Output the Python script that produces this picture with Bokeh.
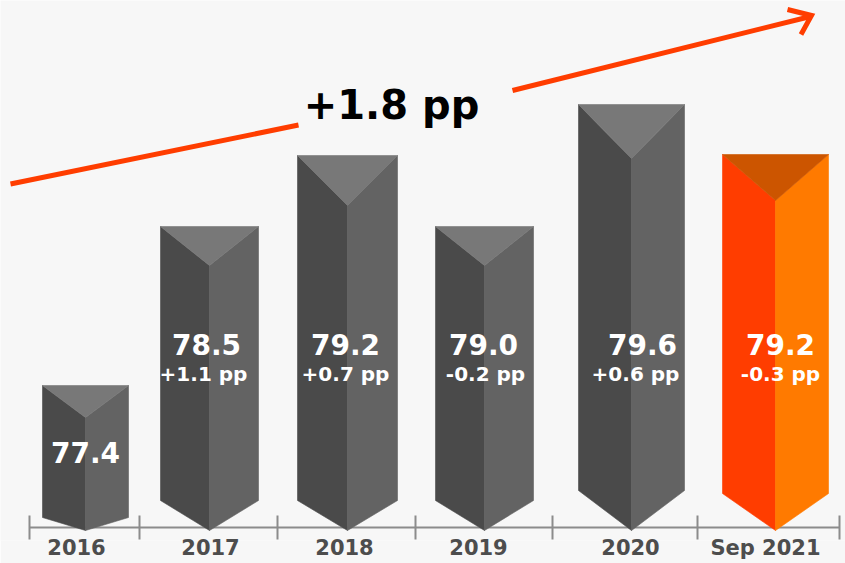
from bokeh.plotting import figure
from bokeh.models import ColumnDataSource, Range1d, LinearAxis, FixedTicker
from bokeh.core.properties import value
from bokeh.embed import file_html
from bokeh.resources import INLINE

# ---- data ----
categories = ["2016", "2017", "2018", "2019", "2020", "Sep 2021"]
rate_labels = ["77.4", "78.5", "79.2", "79.0", "79.6", "79.2"]
change_labels = ["", "+1.1 pp", "+0.7 pp", "-0.2 pp", "+0.6 pp", "-0.3 pp"]
bar_heights = [142, 301, 372, 301, 423, 373]   # drawn height above the axis line
total_change = "+1.8 pp"

# ---- layout (page pixels of the reference; axis line is y = 0) ----
BASE = 527
bar_x = [85, 209, 347, 484, 631, 775]
bar_half = [43, 49, 50, 49, 53, 53]
top_depth = [32, 39, 50, 39, 54, 46]
shoulder = [10, 27, 27, 27, 37, 34]      # shoulder above axis line
tip = -3
rate_x = [85, 206, 345, 483, 642, 780]
rate_y = [452, 344, 344, 344, 344, 344]
change_x = [0, 203, 345, 485, 635, 780]
label_x = [76, 210, 344, 478, 630, 765]
edges = [29, 139, 277, 415, 552, 697, 839]

GREY = ("#4a4a4a", "#636363", "#787878")
ORANGE = ("#ff3d00", "#ff7a00", "#cc5500")
FONT = "DejaVu Sans"

p = figure(width=845, height=563, x_range=Range1d(0, 845), y_range=Range1d(-13, 527),
           output_backend="svg", toolbar_location=None, min_border=0,
           min_border_bottom=23, background_fill_color="#f7f7f7",
           border_fill_color="#f7f7f7", outline_line_color=None,
           x_axis_location=None, y_axis_location=None)
p.grid.visible = False

# axis line with separators
p.line([edges[0], edges[-1]], [0, 0], line_color="#8c8c8c", line_width=2)
p.segment(edges, [-12] * len(edges), edges, [12] * len(edges), line_color="#8c8c8c", line_width=2)

# prisms
left_x, left_y, right_x, right_y, top_x, top_y, lc, rc, tc = [], [], [], [], [], [], [], [], []
for i, h in enumerate(bar_heights):
    c, w, d, s = bar_x[i], bar_half[i], top_depth[i], shoulder[i]
    left_x.append([c - w, c, c, c - w]); left_y.append([h, h - d, tip, s])
    right_x.append([c + w, c, c, c + w]); right_y.append([h, h - d, tip, s])
    top_x.append([c - w, c + w, c]); top_y.append([h, h, h - d])
    pal = ORANGE if i == len(bar_heights) - 1 else GREY
    lc.append(pal[0]); rc.append(pal[1]); tc.append(pal[2])
p.patches(left_x, left_y, fill_color=lc, line_color=lc, line_width=0.6)
p.patches(right_x, right_y, fill_color=rc, line_color=rc, line_width=0.6)
p.patches(top_x, top_y, fill_color=tc, line_color=tc, line_width=0.6)

# labels on bars
rate_src = ColumnDataSource(dict(x=rate_x, y=[BASE - v for v in rate_y], t=rate_labels))
p.text("x", "y", text="t", source=rate_src, text_color="white", text_font=value(FONT),
       text_font_style="bold", text_font_size="28px", text_align="center", text_baseline="middle")
chg_idx = [i for i, t in enumerate(change_labels) if t]
chg_src = ColumnDataSource(dict(x=[change_x[i] for i in chg_idx], y=[BASE - 373] * len(chg_idx),
                                t=[change_labels[i] for i in chg_idx]))
p.text("x", "y", text="t", source=chg_src, text_color="white", text_font=value(FONT),
       text_font_style="bold", text_font_size="20px", text_align="center", text_baseline="middle")

# trend arrow
ARROW = "#ff3d00"
p.line([10, 298], [BASE - 183.5, BASE - 124.5], line_color=ARROW, line_width=5)
p.line([512, 810], [BASE - 90, BASE - 16], line_color=ARROW, line_width=5)
p.line([787, 811, 800.5], [BASE - 9, BASE - 15, BASE - 34], line_color=ARROW, line_width=5,
       line_join="miter")
p.text([391], [BASE - 104], text=[total_change], text_color="#000000", text_font=value(FONT),
       text_font_style="bold", text_font_size="40px", text_align="center", text_baseline="middle")

# category labels: a real axis
ax = LinearAxis(ticker=FixedTicker(ticks=label_x),
                major_label_overrides={x: c for x, c in zip(label_x, categories)})
ax.axis_line_color = None
ax.major_tick_line_color = None
ax.minor_tick_line_color = None
ax.major_label_standoff = -11
ax.major_label_text_font = FONT
ax.major_label_text_font_style = "bold"
ax.major_label_text_font_size = "21px"
ax.major_label_text_color = "#4d4d4d"
p.add_layout(ax, "below")

open("out.html", "w").write(file_html(p, INLINE))
